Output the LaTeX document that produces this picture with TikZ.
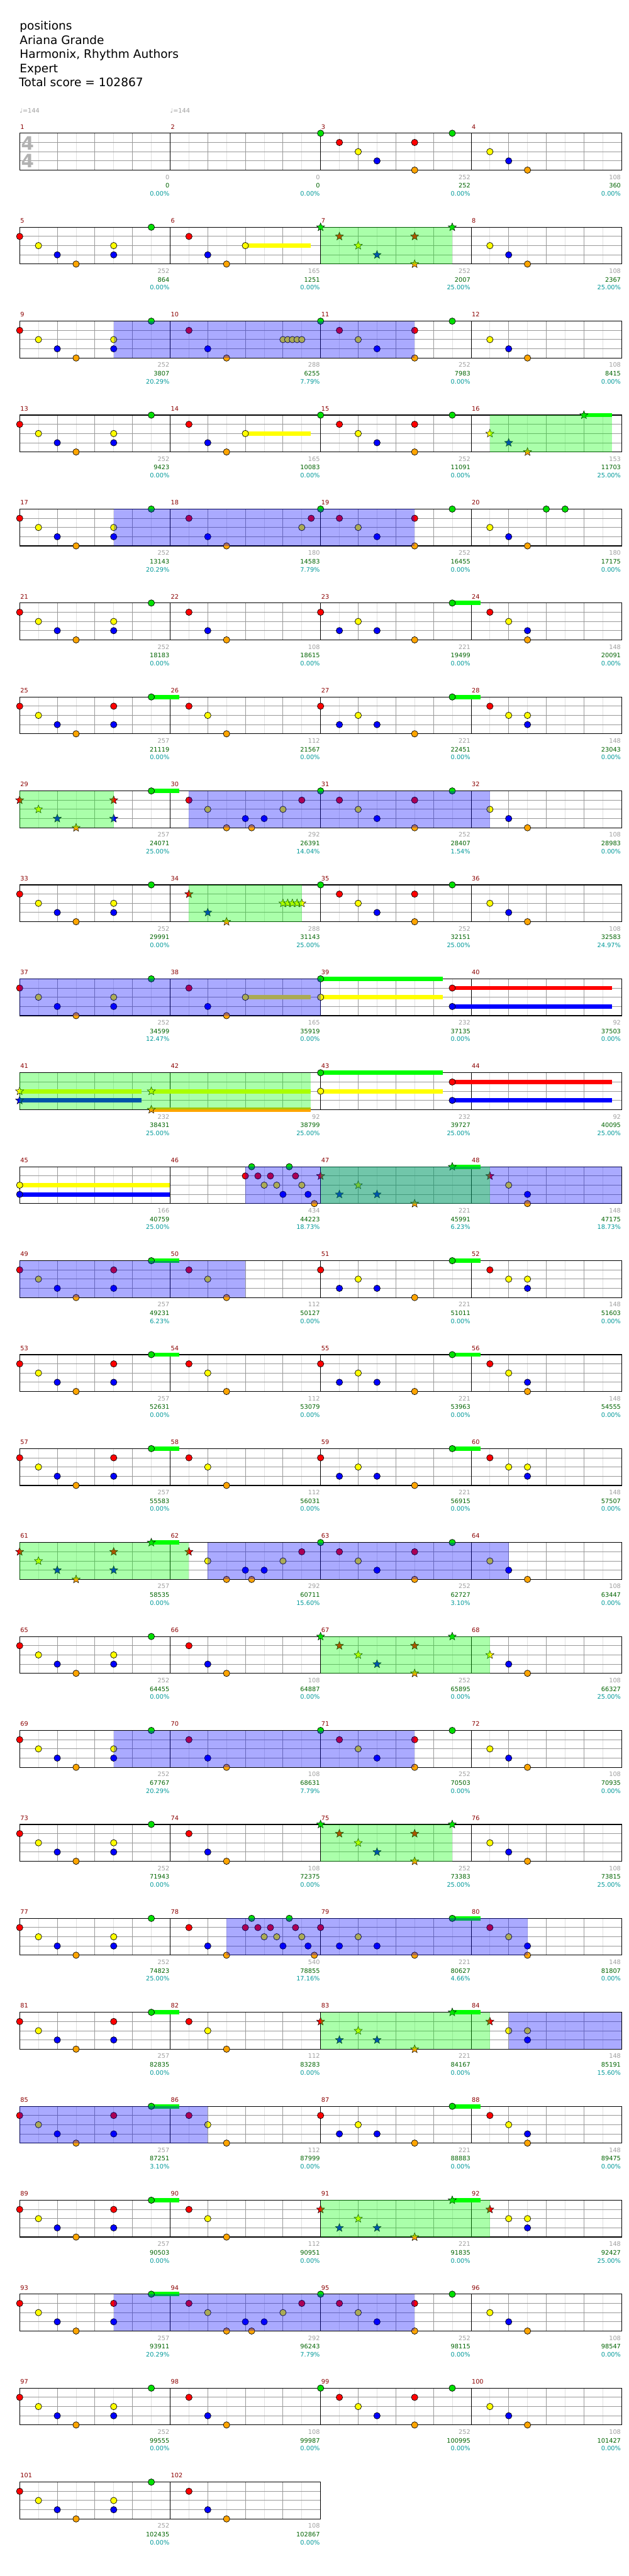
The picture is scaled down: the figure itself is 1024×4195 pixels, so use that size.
\documentclass[tikz,border=0pt]{standalone}
\usepackage{fontspec}
\setmainfont{DejaVu Sans}
\usetikzlibrary{shapes.geometric}

\definecolor{lane0}{HTML}{00E000}
\definecolor{lane1}{HTML}{FF0000}
\definecolor{lane2}{HTML}{FFFF00}
\definecolor{lane3}{HTML}{0000FF}
\definecolor{lane4}{HTML}{FFA500}
\definecolor{sus0}{HTML}{00FF00}
\colorlet{sus1}{lane1}
\colorlet{sus2}{lane2}
\colorlet{sus3}{lane3}
\colorlet{sus4}{lane4}
\definecolor{barnum}{HTML}{8B0000}
\definecolor{numgray}{HTML}{A0A0A0}
\definecolor{numgreen}{HTML}{006400}
\definecolor{numteal}{HTML}{009999}
\definecolor{odblue}{HTML}{0000FF}
\definecolor{spgreen}{HTML}{00FF00}

\tikzset{
  gem/.style={circle, draw=black, line width=0.7pt, inner sep=0pt, minimum size=10.5pt},
  starnote/.style={star, star points=5, star point ratio=2.3, draw=black, line width=0.5pt, inner sep=0pt, minimum size=14pt},
  eighthline/.style={draw=black!12, line width=0.8pt},
  beatline/.style={draw=black!40, line width=0.8pt},
  barline/.style={draw=black, line width=0.8pt},
  laneline/.style={draw=black!40, line width=1pt},
  staffbox/.style={draw=black, line width=1.2pt},
  smalltxt/.style={font=\fontsize{10}{12}\selectfont, inner sep=0pt},
  headtxt/.style={font=\fontsize{19}{23}\selectfont, anchor=base west, inner sep=0pt},
  sigtxt/.style={font=\bfseries\fontsize{30}{30}\selectfont, text=black!30, inner sep=0pt}
}

% note patterns: eighth/lane (lane 0 green ... 4 orange)
\def\riffA{0/1,1/2,2/3,3/4,5/2,5/3,7/0,9/1,10/3,11/4}
\def\riffB{0/1,1/2,2/3,3/4,5/1,5/3,7/0,9/1,10/2,11/4}
\def\endA{16/0,17/1,18/2,19/3,21/1,21/4,23/0,25/2,26/3,27/4}
\def\endB{16/1,17/3,18/2,19/3,21/4,23/0,25/1,26/2,27/3,27/4}
\def\endC{16/1,17/3,18/2,19/3,21/4,23/0,25/1,26/2,27/2,27/3}
\def\starA{16/0,17/1,18/2,19/3,21/1,21/4,23/0}
\def\starB{16/1,17/3,18/2,19/3,21/4,23/0,25/1}
\def\denseA{12/1,12.333/0,12.667/1,13/2,13.333/1,13.667/2,14/3,14.333/0,14.667/1,15/2,15.333/3,15.667/4}
\def\midC{12/3,12.333/4,13/3,14/2,15/1}
\def\trillY{14/2,14.25/2,14.5/2,14.75/2,15/2}

\newcommand{\staffrow}[3]{%
  \pgfmathtruncatemacro\neighth{8*#3-1}
  \pgfmathtruncatemacro\nbeat{4*#3-1}
  \pgfmathtruncatemacro\nbar{#3-1}
  \pgfmathsetmacro\ytop{217+153*#1}
  \foreach \k in {1,...,\neighth} \draw[eighthline] ({32+30.625*\k},\ytop) -- ++(0,60);
  \foreach \k in {1,...,\nbeat} \draw[beatline] ({32+61.25*\k},\ytop) -- ++(0,60);
  \foreach \l in {1,2,3} \draw[laneline] (32,{\ytop+15*\l}) -- ++({245*#3},0);
  \foreach \k in {1,...,\nbar} \draw[barline] ({32+245*\k},\ytop) -- ++(0,60);
  \draw[staffbox] (32,\ytop) rectangle ++({245*#3},60);
  \foreach \k in {1,...,#3} {\pgfmathtruncatemacro\m{#2+\k-1}
    \node[smalltxt, text=barnum, anchor=base west] (bar\m) at ({33+245*(\k-1)},{\ytop-7}) {\m};}
}
\newcommand{\gems}[2]{\foreach \e/\l in #2 {\node[gem, fill=lane\l] at ({32+30.625*\e},{217+153*#1+15*\l}) {};}}
\newcommand{\starnotes}[2]{\foreach \e/\l in #2 {\node[starnote, fill=lane\l] at ({32+30.625*\e},{217+153*#1+15*\l}) {};}}
\newcommand{\sustain}[4]{\fill[sus#4] ({32+30.625*#2},{213.5+153*#1+15*#4}) rectangle ({32+30.625*#3},{220.5+153*#1+15*#4});}
\newcommand{\odzone}[3]{\fill[odblue, fill opacity=0.333] ({32+30.625*#2},{217+153*#1}) rectangle ({32+30.625*#3},{277+153*#1});}
\newcommand{\spzone}[3]{\fill[spgreen, fill opacity=0.333] ({32+30.625*#2},{217+153*#1}) rectangle ({32+30.625*#3},{277+153*#1});}
\newcommand{\scores}[2]{\foreach \g/\s/\p [count=\k] in #2 {
  \node[smalltxt, text=numgray, anchor=base east] at ({31+245*\k},{292+153*#1}) {\g};
  \node[smalltxt, text=numgreen, anchor=base east] at ({31+245*\k},{306+153*#1}) {\s};
  \node[smalltxt, text=numteal, anchor=base east] at ({31+245*\k},{319+153*#1}) {\p\%};}}

\begin{document}
\begin{tikzpicture}[x=1pt, y=-1pt]
\useasboundingbox (0,0) rectangle (1024,4195);
\fill[white] (0,0) rectangle (1024,4195);

\node[headtxt] (song) at (32,49) {positions};
\node[headtxt] (artist) at (32,72) {Ariana Grande};
\node[headtxt] (charter) at (32,95) {Harmonix, Rhythm Authors};
\node[headtxt] (level) at (32,118) {Expert};
\node[headtxt] (total) at (31,141) {Total score = 102867};

% row 1
\staffrow{0}{1}{4}
\node[smalltxt, text=numgray, anchor=base west] (tempo1) at (32,184) {♩=144};
\node[smalltxt, text=numgray, anchor=base west] (tempo2) at (277,184) {♩=144};
\node[sigtxt] (sigtop) at (45,233.5) {4};
\node[sigtxt] (sigbot) at (45,262.5) {4};
\gems{0}{\endA}
\scores{0}{{0/0/0.00,0/0/0.00,252/252/0.00,108/360/0.00}}

\staffrow{1}{5}{4}
\sustain{1}{12}{15.48}{2}
\gems{1}{\riffA}
\gems{1}{{12/2,25/2,26/3,27/4}}
\starnotes{1}{\starA}
\spzone{1}{16}{23}
\scores{1}{{252/864/0.00,165/1251/0.00,252/2007/25.00,108/2367/25.00}}

\staffrow{2}{9}{4}
\gems{2}{\riffA}
\gems{2}{\trillY}
\gems{2}{\endA}
\odzone{2}{5}{21}
\scores{2}{{252/3807/20.29,288/6255/7.79,252/7983/0.00,108/8415/0.00}}

\staffrow{3}{13}{4}
\sustain{3}{12}{15.48}{2}
\sustain{3}{30}{31.5}{0}
\gems{3}{\riffA}
\gems{3}{{12/2,16/0,17/1,18/2,19/3,21/1,21/4,23/0}}
\starnotes{3}{{25/2,26/3,27/4,30/0}}
\spzone{3}{25}{31.5}
\scores{3}{{252/9423/0.00,165/10083/0.00,252/11091/0.00,153/11703/25.00}}

\staffrow{4}{17}{4}
\gems{4}{\riffA}
\gems{4}{{15/2,15.5/1,28/0,29/0}}
\gems{4}{\endA}
\odzone{4}{5}{21}
\scores{4}{{252/13143/20.29,180/14583/7.79,252/16455/0.00,180/17175/0.00}}

\staffrow{5}{21}{4}
\sustain{5}{23}{24.49}{0}
\gems{5}{\riffA}
\gems{5}{\endB}
\scores{5}{{252/18183/0.00,108/18615/0.00,221/19499/0.00,148/20091/0.00}}

\staffrow{6}{25}{4}
\sustain{6}{7}{8.49}{0}
\sustain{6}{23}{24.49}{0}
\gems{6}{\riffB}
\gems{6}{\endC}
\scores{6}{{257/21119/0.00,112/21567/0.00,221/22451/0.00,148/23043/0.00}}

\staffrow{7}{29}{4}
\sustain{7}{7}{8.49}{0}
\starnotes{7}{{0/1,1/2,2/3,3/4,5/1,5/3}}
\gems{7}{{7/0,9/1,10/2,11/4}}
\gems{7}{\midC}
\gems{7}{\endA}
\spzone{7}{0}{5}
\odzone{7}{9}{25}
\scores{7}{{257/24071/25.00,292/26391/14.04,252/28407/1.54,108/28983/0.00}}

\staffrow{8}{33}{4}
\gems{8}{{0/1,1/2,2/3,3/4,5/2,5/3,7/0}}
\starnotes{8}{{9/1,10/3,11/4}}
\starnotes{8}{\trillY}
\gems{8}{\endA}
\spzone{8}{9}{15}
\scores{8}{{252/29991/0.00,288/31143/25.00,252/32151/25.00,108/32583/24.97}}

\staffrow{9}{37}{4}
\sustain{9}{12}{15.48}{2}
\sustain{9}{16}{22.49}{0}
\sustain{9}{16}{22.49}{2}
\sustain{9}{23}{31.5}{1}
\sustain{9}{23}{31.5}{3}
\gems{9}{\riffA}
\gems{9}{{12/2,16/0,16/2,23/1,23/3}}
\odzone{9}{0}{16}
\scores{9}{{252/34599/12.47,165/35919/0.00,232/37135/0.00,92/37503/0.00}}

\staffrow{10}{41}{4}
\sustain{10}{0}{6.49}{2}
\sustain{10}{0}{6.49}{3}
\sustain{10}{7}{15.48}{2}
\sustain{10}{7}{15.48}{4}
\sustain{10}{16}{22.49}{0}
\sustain{10}{16}{22.49}{2}
\sustain{10}{23}{31.5}{1}
\sustain{10}{23}{31.5}{3}
\starnotes{10}{{0/2,0/3,7/2,7/4}}
\gems{10}{{16/0,16/2,23/1,23/3}}
\spzone{10}{0}{15.48}
\scores{10}{{232/38431/25.00,92/38799/25.00,232/39727/25.00,92/40095/25.00}}

\staffrow{11}{45}{4}
\sustain{11}{0}{7.99}{2}
\sustain{11}{0}{7.99}{3}
\sustain{11}{23}{24.49}{0}
\gems{11}{{0/2,0/3}}
\gems{11}{\denseA}
\gems{11}{{26/2,27/3,27/4}}
\starnotes{11}{\starB}
\odzone{11}{12}{32}
\spzone{11}{16}{25}
\scores{11}{{166/40759/25.00,434/44223/18.73,221/45991/6.23,148/47175/18.73}}

\staffrow{12}{49}{4}
\sustain{12}{7}{8.49}{0}
\sustain{12}{23}{24.49}{0}
\gems{12}{\riffB}
\gems{12}{\endC}
\odzone{12}{0}{12}
\scores{12}{{257/49231/6.23,112/50127/0.00,221/51011/0.00,148/51603/0.00}}

\staffrow{13}{53}{4}
\sustain{13}{7}{8.49}{0}
\sustain{13}{23}{24.49}{0}
\gems{13}{\riffB}
\gems{13}{\endB}
\scores{13}{{257/52631/0.00,112/53079/0.00,221/53963/0.00,148/54555/0.00}}

\staffrow{14}{57}{4}
\sustain{14}{7}{8.49}{0}
\sustain{14}{23}{24.49}{0}
\gems{14}{\riffB}
\gems{14}{\endC}
\scores{14}{{257/55583/0.00,112/56031/0.00,221/56915/0.00,148/57507/0.00}}

\staffrow{15}{61}{4}
\sustain{15}{7}{8.49}{0}
\starnotes{15}{{0/1,1/2,2/3,3/4,5/1,5/3,7/0,9/1}}
\gems{15}{{10/2,11/4}}
\gems{15}{\midC}
\gems{15}{\endA}
\spzone{15}{0}{9}
\odzone{15}{10}{26}
\scores{15}{{257/58535/0.00,292/60711/15.60,252/62727/3.10,108/63447/0.00}}

\staffrow{16}{65}{4}
\gems{16}{\riffA}
\gems{16}{{26/3,27/4}}
\starnotes{16}{{16/0,17/1,18/2,19/3,21/1,21/4,23/0,25/2}}
\spzone{16}{16}{25}
\scores{16}{{252/64455/0.00,108/64887/0.00,252/65895/0.00,108/66327/25.00}}

\staffrow{17}{69}{4}
\gems{17}{\riffA}
\gems{17}{\endA}
\odzone{17}{5}{21}
\scores{17}{{252/67767/20.29,108/68631/7.79,252/70503/0.00,108/70935/0.00}}

\staffrow{18}{73}{4}
\gems{18}{\riffA}
\gems{18}{{25/2,26/3,27/4}}
\starnotes{18}{\starA}
\spzone{18}{16}{23}
\scores{18}{{252/71943/0.00,108/72375/0.00,252/73383/25.00,108/73815/25.00}}

\staffrow{19}{77}{4}
\sustain{19}{23}{24.49}{0}
\gems{19}{\riffA}
\gems{19}{\denseA}
\gems{19}{\endB}
\odzone{19}{11}{27}
\scores{19}{{252/74823/25.00,540/78855/17.16,221/80627/4.66,148/81807/0.00}}

\staffrow{20}{81}{4}
\sustain{20}{7}{8.49}{0}
\sustain{20}{23}{24.49}{0}
\gems{20}{\riffB}
\gems{20}{{26/2,27/2,27/3}}
\starnotes{20}{\starB}
\spzone{20}{16}{25}
\odzone{20}{26}{32}
\scores{20}{{257/82835/0.00,112/83283/0.00,221/84167/0.00,148/85191/15.60}}

\staffrow{21}{85}{4}
\sustain{21}{7}{8.49}{0}
\sustain{21}{23}{24.49}{0}
\gems{21}{\riffB}
\gems{21}{\endB}
\odzone{21}{0}{10}
\scores{21}{{257/87251/3.10,112/87999/0.00,221/88883/0.00,148/89475/0.00}}

\staffrow{22}{89}{4}
\sustain{22}{7}{8.49}{0}
\sustain{22}{23}{24.49}{0}
\gems{22}{\riffB}
\gems{22}{{26/2,27/2,27/3}}
\starnotes{22}{\starB}
\spzone{22}{16}{25}
\scores{22}{{257/90503/0.00,112/90951/0.00,221/91835/0.00,148/92427/25.00}}

\staffrow{23}{93}{4}
\sustain{23}{7}{8.49}{0}
\gems{23}{\riffB}
\gems{23}{\midC}
\gems{23}{\endA}
\odzone{23}{5}{21}
\scores{23}{{257/93911/20.29,292/96243/7.79,252/98115/0.00,108/98547/0.00}}

\staffrow{24}{97}{4}
\gems{24}{\riffA}
\gems{24}{\endA}
\scores{24}{{252/99555/0.00,108/99987/0.00,252/100995/0.00,108/101427/0.00}}

\staffrow{25}{101}{2}
\gems{25}{\riffA}
\scores{25}{{252/102435/0.00,108/102867/0.00}}
\end{tikzpicture}
\end{document}
